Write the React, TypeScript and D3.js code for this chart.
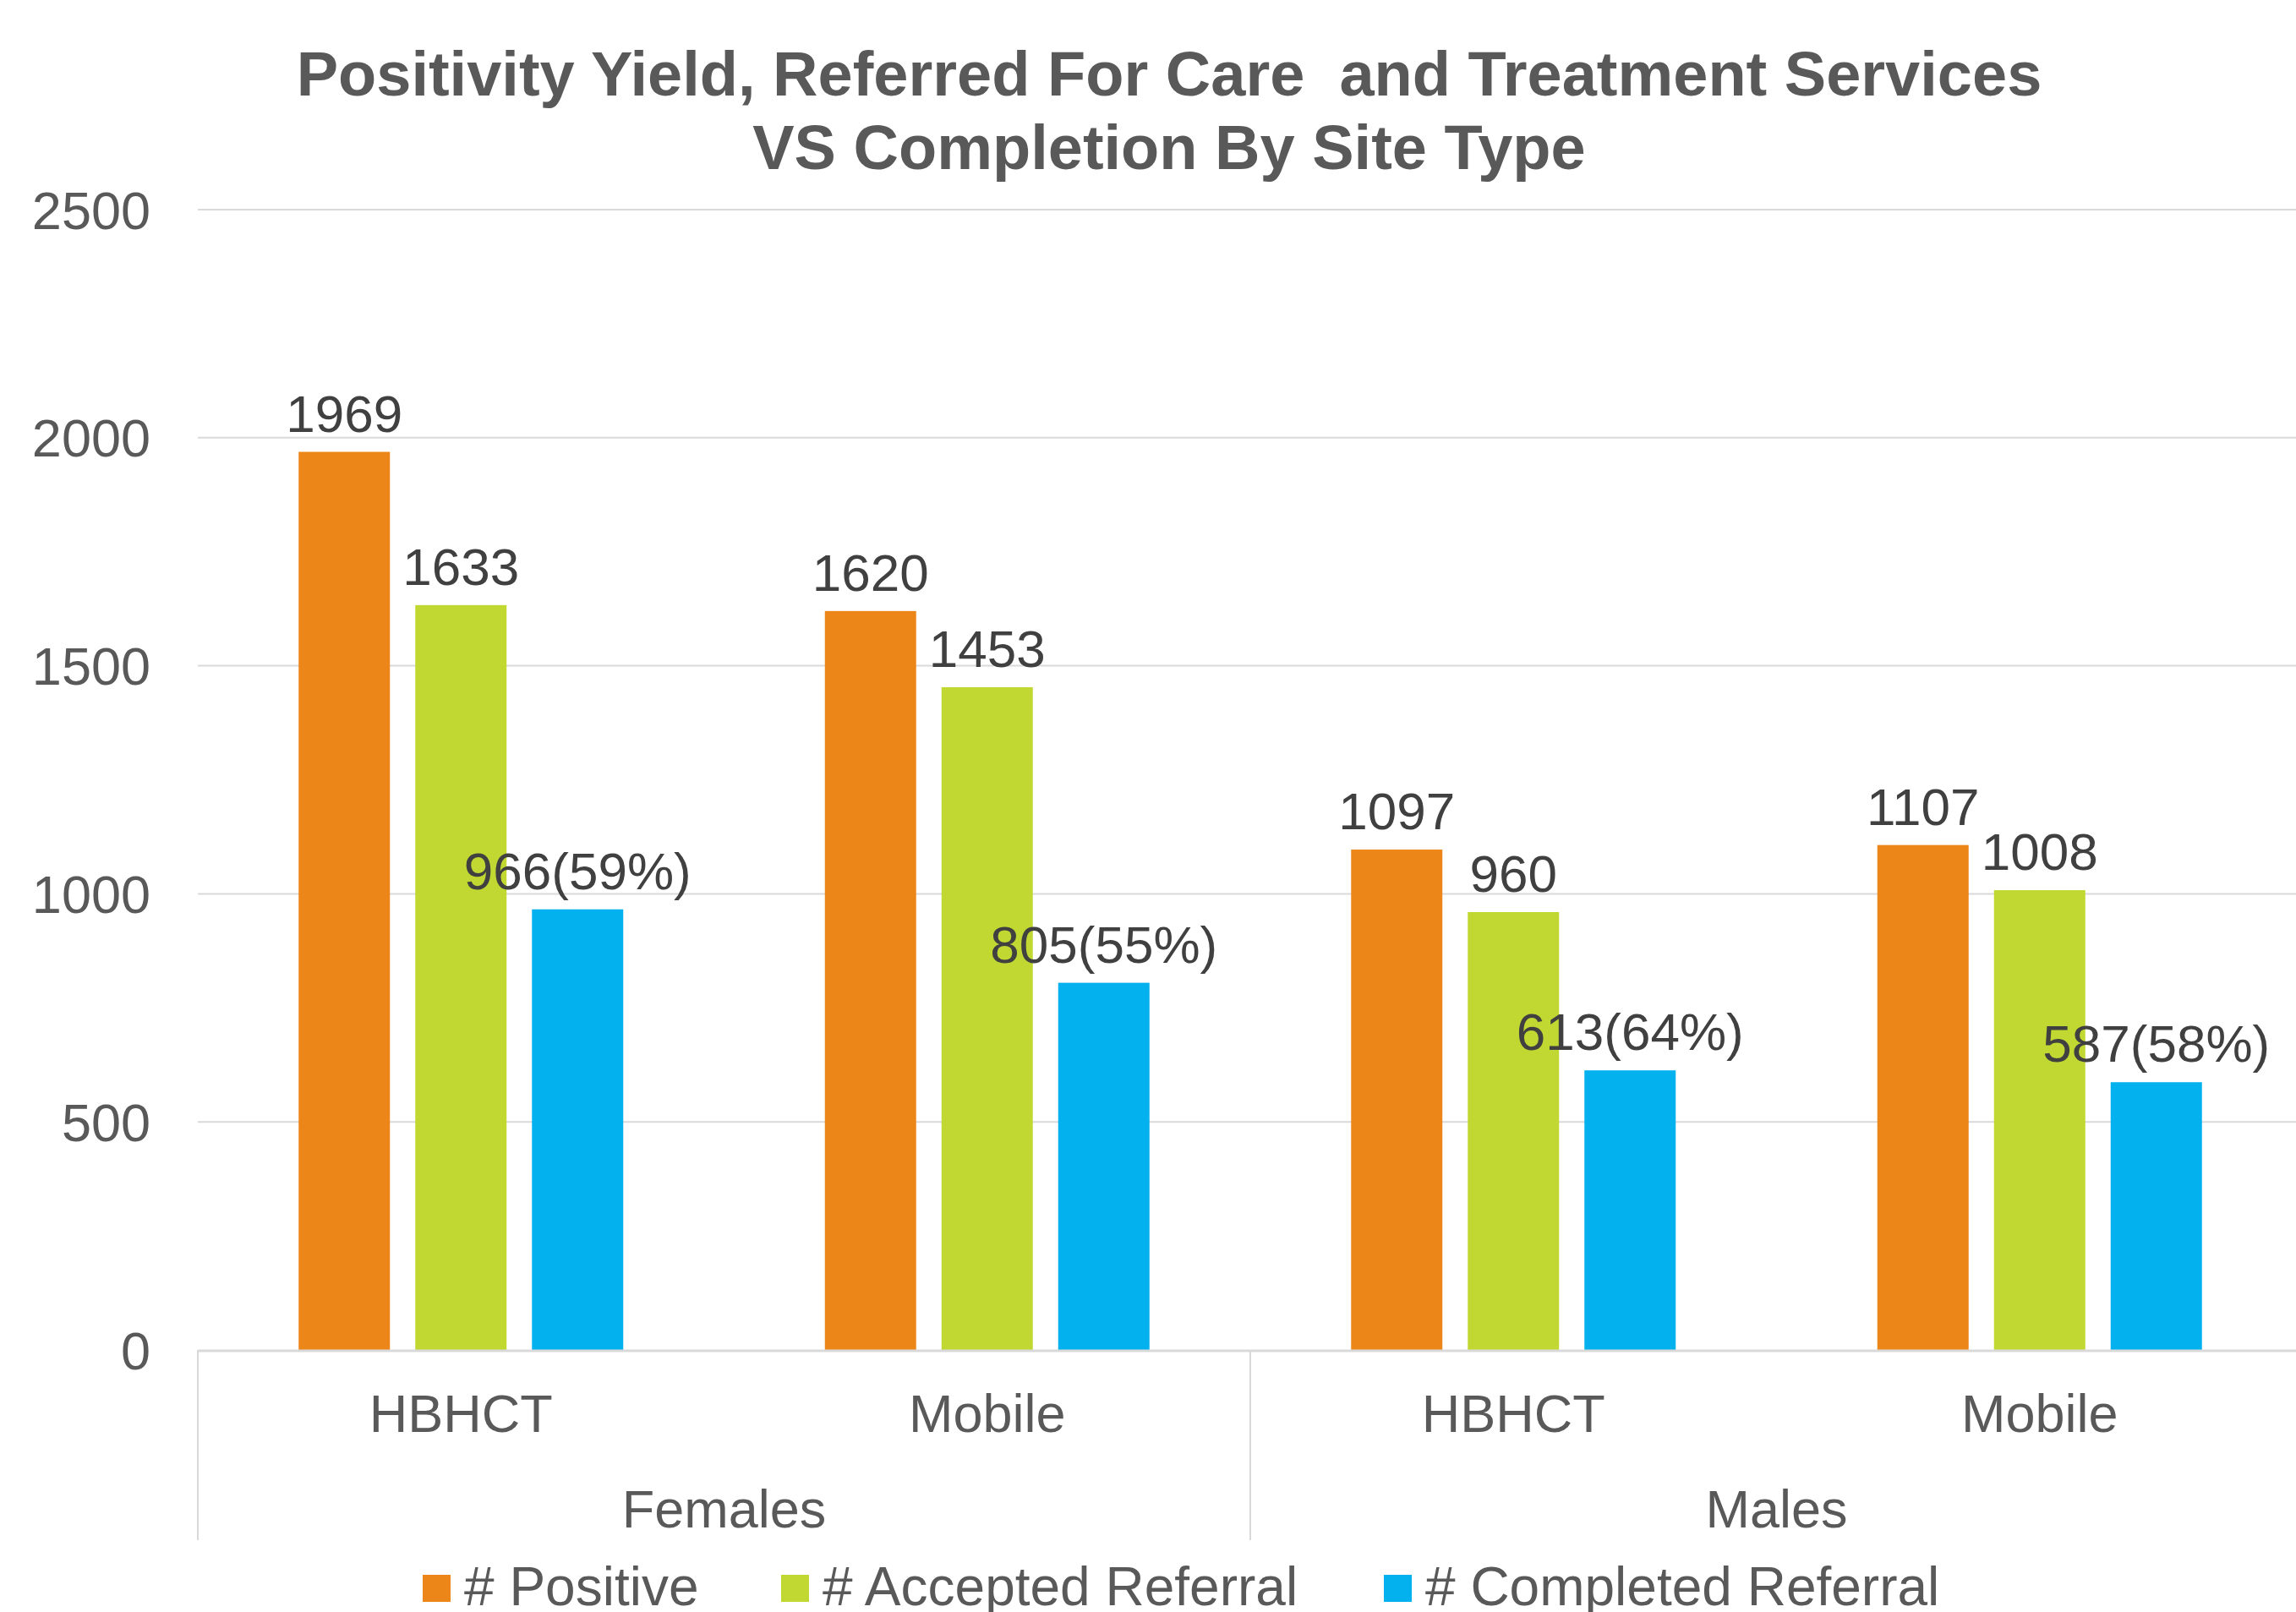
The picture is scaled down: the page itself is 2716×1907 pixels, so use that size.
import React from 'react';
import { scaleBand, scaleLinear } from 'd3';

const groups = ['Females', 'Males'];
const siteTypes = ['HBHCT', 'Mobile'];
const seriesNames = ['# Positive', '# Accepted Referral', '# Completed Referral'];
const seriesColors = ['#ED8618', '#C1D832', '#03B1EF'];
const positive = [1969, 1620, 1097, 1107];
const accepted = [1633, 1453, 960, 1008];
const completed = [966, 805, 613, 587];
const yTicks = [0, 500, 1000, 1500, 2000, 2500];

const W = 2716;
const H = 1907;
const FONT = "'Liberation Sans', Arial, sans-serif";

const App = () => {
  const left = 234;
  const right = 2724;
  const top = 248;
  const bottom = 1597;

  const categories = groups.flatMap((g) => siteTypes.map((s) => `${g}-${s}`));
  const x = scaleBand().domain(categories).range([left, right]).padding(0);
  const band = x.bandwidth();
  const clusterW = 384;
  const xInner = scaleBand()
    .domain(seriesNames)
    .range([(band - clusterW) / 2, (band + clusterW) / 2])
    .paddingInner(30 / 138);
  const y = scaleLinear().domain([0, 2500]).range([bottom, top]);

  const series = [positive, accepted, completed];
  const label = (si, i) => {
    if (si < 2) return String(series[si][i]);
    const pct = Math.round((completed[i] / accepted[i]) * 100);
    return `${completed[i]}(${pct}%)`;
  };

  const groupW = band * siteTypes.length;
  const legendX = [500, 924, 1637];

  return (
    <svg
      width={W}
      height={H}
      style={{ position: 'absolute', left: 0, top: 0, background: '#fff' }}
      fontFamily={FONT}
    >
      <text
        x={1383}
        y={113}
        textAnchor='middle'
        fontSize='74'
        fontWeight='bold'
        fill='#595959'
        style={{ whiteSpace: 'pre' }}
      >
        {'Positivity Yield, Referred For Care  and Treatment Services'}
      </text>
      <text x={1383} y={200} textAnchor='middle' fontSize='74' fontWeight='bold' fill='#595959'>
        VS Completion By Site Type
      </text>

      {yTicks.map((t) => (
        <g key={t}>
          {t > 0 && (
            <line x1={left} x2={W} y1={y(t)} y2={y(t)} stroke='#d9d9d9' strokeWidth='2' />
          )}
          <text x={178} y={y(t)} dy='0.36em' textAnchor='end' fontSize='63' fill='#595959'>
            {t}
          </text>
        </g>
      ))}

      {series.map((vals, si) =>
        categories.map((c, i) => (
          <rect
            key={`${si}-${c}`}
            x={x(c) + xInner(seriesNames[si])}
            y={y(vals[i])}
            width={xInner.bandwidth()}
            height={bottom - y(vals[i])}
            fill={seriesColors[si]}
          />
        ))
      )}

      <line x1={left} x2={W} y1={bottom + 1} y2={bottom + 1} stroke='#d9d9d9' strokeWidth='3' />
      {groups.map((g, gi) => (
        <line
          key={g}
          x1={left + gi * groupW}
          x2={left + gi * groupW}
          y1={bottom}
          y2={1822}
          stroke='#d9d9d9'
          strokeWidth='2'
        />
      ))}

      {series.map((vals, si) =>
        categories.map((c, i) => (
          <text
            key={`l-${si}-${c}`}
            x={x(c) + xInner(seriesNames[si]) + xInner.bandwidth() / 2}
            y={y(vals[i]) - 24}
            textAnchor='middle'
            fontSize='62'
            fill='#404040'
          >
            {label(si, i)}
          </text>
        ))
      )}

      {categories.map((c, i) => (
        <text
          key={`c-${c}`}
          x={x(c) + band / 2}
          y={1694}
          textAnchor='middle'
          fontSize='63'
          fill='#595959'
        >
          {siteTypes[i % siteTypes.length]}
        </text>
      ))}
      {groups.map((g, gi) => (
        <text
          key={`g-${g}`}
          x={left + gi * groupW + groupW / 2}
          y={1807}
          textAnchor='middle'
          fontSize='63'
          fill='#595959'
        >
          {g}
        </text>
      ))}

      {seriesNames.map((s, si) => (
        <g key={s} transform={`translate(${legendX[si]},1863)`}>
          <rect width='33' height='32' fill={seriesColors[si]} />
          <text x='49' y='36' fontSize='64' fill='#595959'>
            {s}
          </text>
        </g>
      ))}
    </svg>
  );
};

export default App;
